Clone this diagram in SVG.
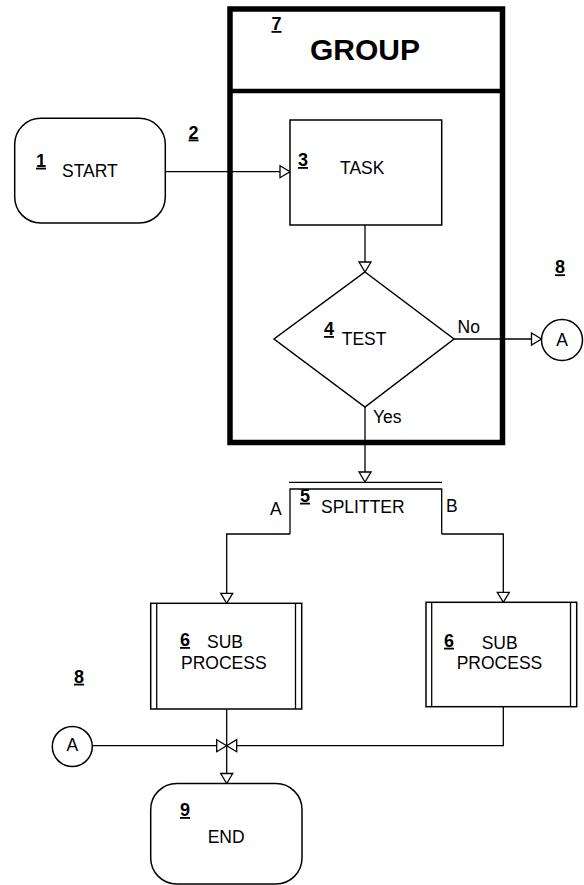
<svg xmlns="http://www.w3.org/2000/svg" width="584" height="885" viewBox="0 0 584 885">
<style>
.shape{fill:#fff;stroke:#000;stroke-width:1.5}
.line{fill:none;stroke:#000;stroke-width:1.3}
.lbl{font-family:"Liberation Sans",Arial,sans-serif;font-size:17.5px;fill:#000}
.num{font-family:"Liberation Sans",Arial,sans-serif;font-size:18px;font-weight:bold;fill:#000;text-decoration:underline}
.title{font-family:"Liberation Sans",Arial,sans-serif;font-size:30px;font-weight:bold;fill:#000}
</style>
<defs>
<marker id="arr" viewBox="0 0 10 13" refX="10" refY="6.5" markerWidth="10" markerHeight="13" markerUnits="userSpaceOnUse" orient="auto" overflow="visible">
<path d="M0,0.5 L10,6.5 L0,12.5 Z" fill="#fff" stroke="#000" stroke-width="1.3"/>
</marker>
</defs>
<rect width="584" height="885" fill="#fff"/>

<g id="group7">
<rect x="230" y="9" width="272.5" height="433.5" fill="none" stroke="#000" stroke-width="5.5"/>
<line x1="230" y1="91" x2="502.5" y2="91" stroke="#000" stroke-width="4.5"/>
<text class="num" x="271.5" y="30">7</text>
<text class="title" x="310" y="60">GROUP</text>
</g>

<g id="connectors">
<line class="line" x1="165" y1="171.7" x2="290" y2="171.7" marker-end="url(#arr)"/>
<line class="line" x1="365" y1="225" x2="365" y2="272" marker-end="url(#arr)"/>
<line class="line" x1="454" y1="339" x2="541.5" y2="339" marker-end="url(#arr)"/>
<line class="line" x1="365" y1="407" x2="365" y2="482" marker-end="url(#arr)"/>
<line class="line" x1="289" y1="482.3" x2="442" y2="482.3"/>
<path class="line" d="M290,534 V489 H441.7 V534"/>
<path class="line" d="M290,534 H226.7 V603.3" marker-end="url(#arr)"/>
<path class="line" d="M441.7,534 H503.3 V602.3" marker-end="url(#arr)"/>
<line class="line" x1="92.5" y1="745.7" x2="226.7" y2="745.7" marker-end="url(#arr)"/>
<path class="line" d="M503.3,706.7 V745.7 H226.7" marker-end="url(#arr)"/>
<line class="line" x1="226.7" y1="709" x2="226.7" y2="783.5" marker-end="url(#arr)"/>
<text class="lbl" x="457.5" y="333">No</text>
<text class="lbl" x="373" y="423">Yes</text>
<text class="lbl" x="270" y="515">A</text>
<text class="lbl" x="446" y="512">B</text>
<text class="num" x="188.5" y="138.5">2</text>
</g>

<g id="start1">
<rect class="shape" x="14.7" y="118.3" width="150.6" height="104.7" rx="26" ry="26"/>
<text class="num" x="36" y="166.7">1</text>
<text class="lbl" x="62" y="177.3">START</text>
</g>

<g id="task3">
<rect class="shape" x="290" y="120" width="151.7" height="105"/>
<text class="num" x="298" y="166">3</text>
<text class="lbl" x="340" y="174">TASK</text>
</g>

<g id="test4">
<polygon class="shape" points="365,272 454,339 365,407 274,339"/>
<text class="num" x="324" y="335">4</text>
<text class="lbl" x="341.7" y="345">TEST</text>
</g>

<g id="splitter5">
<text class="num" x="300" y="501.7">5</text>
<text class="lbl" x="321" y="513">SPLITTER</text>
</g>

<g id="sub6a">
<rect class="shape" x="150.7" y="603.3" width="151" height="105.7"/>
<line class="line" x1="156.7" y1="603.3" x2="156.7" y2="709"/>
<line class="line" x1="295.5" y1="603.3" x2="295.5" y2="709"/>
<text class="num" x="180" y="646">6</text>
<text class="lbl" x="207" y="648">SUB</text>
<text class="lbl" x="181" y="669">PROCESS</text>
</g>

<g id="sub6b">
<rect class="shape" x="426" y="602.3" width="150.7" height="104.4"/>
<line class="line" x1="431.7" y1="602.3" x2="431.7" y2="706.7"/>
<line class="line" x1="570.5" y1="602.3" x2="570.5" y2="706.7"/>
<text class="num" x="444" y="646.7">6</text>
<text class="lbl" x="481.7" y="649">SUB</text>
<text class="lbl" x="456.7" y="669">PROCESS</text>
</g>

<g id="conn8a">
<circle class="shape" cx="562" cy="340" r="20.5"/>
<text class="lbl" x="562" y="346" text-anchor="middle">A</text>
<text class="num" x="555" y="273.3">8</text>
</g>

<g id="conn8b">
<circle class="shape" cx="72.3" cy="746.5" r="20"/>
<text class="lbl" x="72.3" y="751" text-anchor="middle">A</text>
<text class="num" x="74" y="682.7">8</text>
</g>

<g id="end9">
<rect class="shape" x="150.7" y="783.5" width="151.3" height="100.5" rx="26" ry="26"/>
<text class="num" x="180" y="816">9</text>
<text class="lbl" x="207.7" y="843">END</text>
</g>
</svg>
